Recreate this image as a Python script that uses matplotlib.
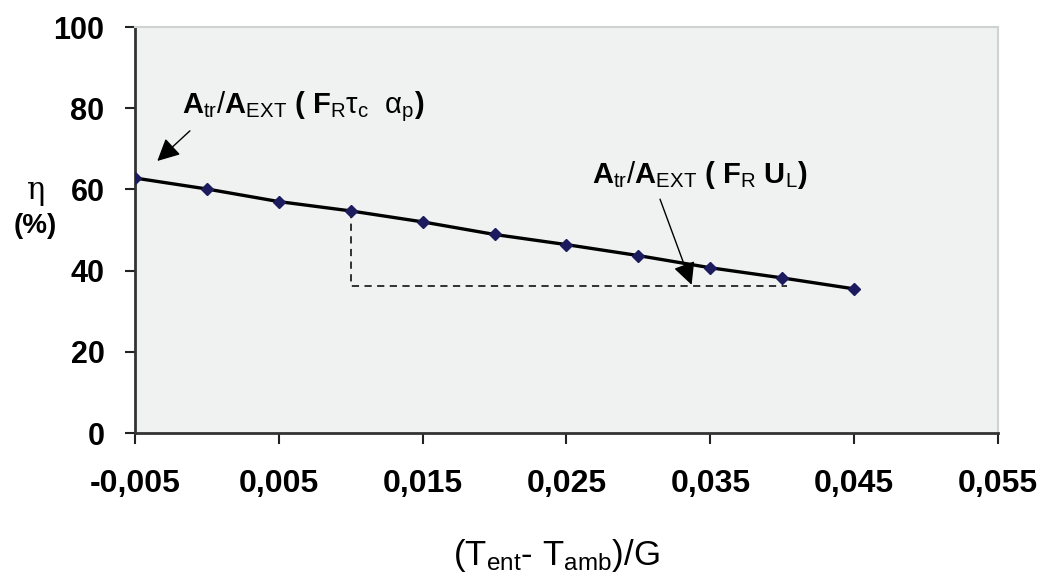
import matplotlib
matplotlib.use("Agg")
import matplotlib.pyplot as plt

# Data
x_vals = [-0.005, 0.0, 0.005, 0.010, 0.015, 0.020, 0.025, 0.030, 0.035, 0.040, 0.045]
eta_vals = [62.8, 60.1, 57.0, 54.7, 52.0, 48.9, 46.4, 43.7, 40.7, 38.2, 35.5]
x_ticks = [-0.005, 0.005, 0.015, 0.025, 0.035, 0.045, 0.055]
x_tick_labels = ["-0,005", "0,005", "0,015", "0,025", "0,035", "0,045", "0,055"]
y_ticks = [0, 20, 40, 60, 80, 100]
dash_x = [0.010, 0.010, 0.0403]
dash_y = [54.7, 36.3, 36.3]

plt.rcParams['mathtext.fontset'] = 'custom'
plt.rcParams['mathtext.rm'] = 'Liberation Sans'
plt.rcParams['mathtext.bf'] = 'Liberation Sans:bold'
plt.rcParams['mathtext.it'] = 'Liberation Sans:italic'
plt.rcParams['font.family'] = ['Liberation Sans', 'DejaVu Sans']

fig = plt.figure(figsize=(10.4, 5.82), dpi=100)
ax = fig.add_axes([0.1298, 0.256, 0.8298, 0.6976])
ax.set_facecolor('#eff2f1')

ax.plot(dash_x, dash_y, color='#222222', lw=1.3, ls=(0, (4, 3)), zorder=2)
ax.plot(x_vals, eta_vals, color='black', lw=2.4, zorder=3)
ax.plot(x_vals, eta_vals, ls='none', marker='D', ms=6.5, color='#1b1b5e',
        markeredgecolor='#1b1b5e', zorder=4)

ax.set_xlim(-0.005, 0.055)
ax.set_ylim(0, 100)
ax.set_xticks(x_ticks)
ax.set_xticklabels(x_tick_labels, fontsize=23, fontweight='bold')
ax.set_yticks(y_ticks)
ax.set_yticklabels([str(v) for v in y_ticks], fontsize=22, fontweight='bold')
ax.tick_params(axis='x', direction='out', length=8, width=1.5, pad=18, colors='#222222')
ax.tick_params(axis='y', direction='out', length=7, width=1.5, pad=15, colors='#222222')
for lab in ax.get_xticklabels() + ax.get_yticklabels():
    lab.set_color('black')

for s in ['left', 'bottom']:
    ax.spines[s].set_color('#333333')
    ax.spines[s].set_linewidth(2)
for s in ['top', 'right']:
    ax.spines[s].set_color('#cfd2d1')
    ax.spines[s].set_linewidth(1.5)

# annotations
ax.annotate(r'$\mathbf{A}_{\mathrm{tr}}/\mathbf{A}_{\mathrm{EXT}}$ ( $\mathbf{F}_{\mathrm{R}}\mathrm{\tau}_{\mathrm{c}}\ \ \mathrm{\alpha}_{\mathrm{p}}$)',
            xy=(-0.00345, 67.0), xytext=(-0.0017, 80.3), fontsize=21, fontweight='bold',
            va='center', ha='left',
            arrowprops=dict(arrowstyle='-|>', mutation_scale=34, lw=1.0, color='black',
                            shrinkA=4, shrinkB=0, relpos=(0.06, 0.0)))
ax.annotate(r'$\mathbf{A}_{\mathrm{tr}}/\mathbf{A}_{\mathrm{EXT}}$ ( $\mathbf{F}_{\mathrm{R}}\ \mathbf{U}_{\mathrm{L}}$)',
            xy=(0.0337, 36.5), xytext=(0.0268, 63.5), fontsize=21, fontweight='bold',
            va='center', ha='left',
            arrowprops=dict(arrowstyle='-|>', mutation_scale=34, lw=1.0, color='black',
                            shrinkA=4, shrinkB=0, relpos=(0.3, 0.0)))

# axis labels
fig.text(0.035, 0.672, 'η', fontsize=22, family=['DejaVu Serif'], ha='center', va='center')
fig.text(0.034, 0.612, '(%)', fontsize=20, fontweight='bold', ha='center', va='center')
fig.text(0.535, 0.045, r'(T$_{\mathrm{ent}}$- T$_{\mathrm{amb}}$)/G', fontsize=25,
         ha='center', va='center')

fig.savefig('out.png', dpi=100)
